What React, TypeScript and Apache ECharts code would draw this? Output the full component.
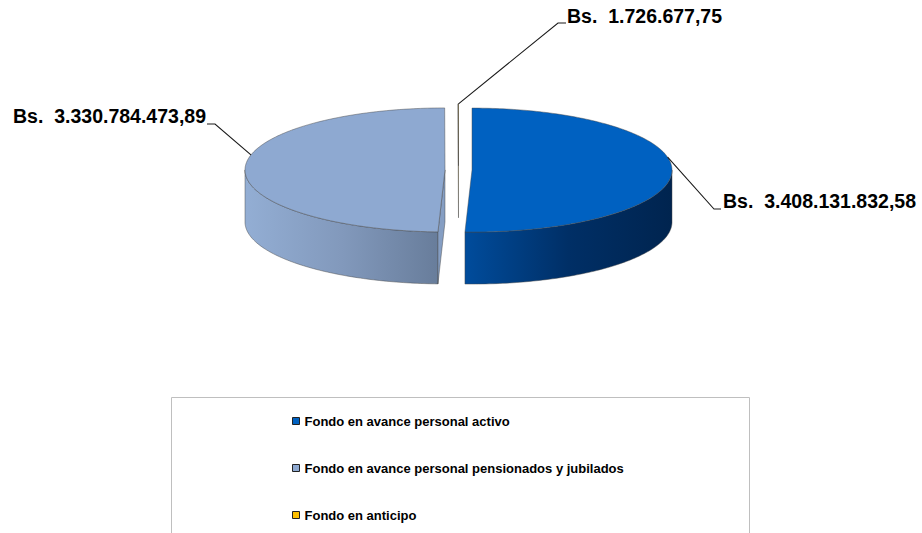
import React, { useEffect, useRef } from 'react';
import * as echarts from 'echarts';

// ---------- data ----------
const categories = [
  'Fondo en avance personal activo',
  'Fondo en avance personal pensionados y jubilados',
  'Fondo en anticipo',
];
const values = [3408131832.58, 3330784473.89, 1726677.75];
const currencyPrefix = 'Bs.';
const topColors = ['#0061C1', '#8EA9D1', '#FFC000'];
const wallColors = [
  ['#004C9C', '#002F66', '#00244F'],
  ['#93AED4', '#8299BC', '#687D9B'],
  ['#C89600', '#A07800', '#7A5C00'],
];
const faceColors = ['#004C9E', '#859EC3', '#D9A400'];

// ---------- layout ----------
const CX = 458.5;
const CY = 170;
const RX = 200;
const RY = 62;
const DEPTH = 52;
const EXPLODE = 13.5;
const FONT = '"Liberation Sans", Arial, Helvetica, sans-serif';
const labelLayout = [
  { anchor: 78, elbow: [714, 209], end: [721, 209], x: 723, y: 201 },
  { anchor: 284, elbow: [215, 124], end: [207, 124], x: 13, y: 116 },
  { anchor: 360, elbow: [558, 23], end: [566, 23], x: 567, y: 16 },
];

function fmt(v: number): string {
  const [i, d] = v.toFixed(2).split('.');
  return i.replace(/\B(?=(\d{3})+(?!\d))/g, '.') + ',' + d;
}

const total = values.reduce((a, b) => a + b, 0);
const spans = values.map((v) => (v / total) * 360);
const starts: number[] = [];
spans.reduce((acc, s, i) => {
  starts[i] = acc;
  return acc + s;
}, 0);

const rad = (d: number) => (d * Math.PI) / 180;
function pt(cx: number, cy: number, th: number, dz: number): number[] {
  return [cx + RX * Math.sin(rad(th)), cy - RY * Math.cos(rad(th)) + dz];
}
function arcPts(cx: number, cy: number, a: number, b: number, dz: number): number[][] {
  const n = Math.max(2, Math.ceil(Math.abs(b - a)) + 1);
  const out: number[][] = [];
  for (let k = 0; k < n; k++) {
    out.push(pt(cx, cy, a + ((b - a) * k) / (n - 1), dz));
  }
  return out;
}
function toPath(points: number[][]): string {
  return (
    points.map((p, k) => (k === 0 ? 'M' : 'L') + p[0].toFixed(2) + ' ' + p[1].toFixed(2)).join(' ') + ' Z'
  );
}

const STROKE = 'rgba(70,70,70,0.65)';

function renderSlice(params: any) {
  const i = params.seriesIndex;
  const a0 = starts[i];
  const a1 = starts[i] + spans[i];
  const mid = (a0 + a1) / 2;
  const cx = CX + EXPLODE * Math.sin(rad(mid));
  const cy = CY - EXPLODE * (RY / RX) * Math.cos(rad(mid));
  const children: any[] = [];

  // outer wall (front half only)
  const ws = Math.max(a0, 90);
  const we = Math.min(a1, 270);
  if (we > ws) {
    const top = arcPts(cx, cy, ws, we, 0);
    const bottom = arcPts(cx, cy, we, ws, DEPTH);
    const stops = wallColors[i];
    children.push({
      type: 'path',
      shape: { pathData: toPath(top.concat(bottom)) },
      style: {
        fill: new echarts.graphic.LinearGradient(0, 0, 1, 0, [
          { offset: 0, color: stops[0] },
          { offset: 0.5, color: stops[1] },
          { offset: 1, color: stops[2] },
        ]),
        stroke: STROKE,
        lineWidth: 0.7,
      },
    });
  }

  // cut faces
  const face = (th: number) => {
    const p = pt(cx, cy, th, 0);
    const q = pt(cx, cy, th, DEPTH);
    return toPath([[cx, cy], p, q, [cx, cy + DEPTH]]);
  };
  if (Math.sin(rad(a0)) < -1e-6) {
    children.push({
      type: 'path',
      shape: { pathData: face(a0) },
      style: { fill: faceColors[i], stroke: STROKE, lineWidth: 0.7 },
    });
  }
  if (Math.sin(rad(a1)) > 1e-6) {
    children.push({
      type: 'path',
      shape: { pathData: face(a1) },
      style: { fill: faceColors[i], stroke: STROKE, lineWidth: 0.7 },
    });
  }

  // top face
  const topPts = [[cx, cy]].concat(arcPts(cx, cy, a0, a1, 0));
  children.push({
    type: 'path',
    shape: { pathData: toPath(topPts) },
    style: { fill: topColors[i], stroke: STROKE, lineWidth: 0.7 },
  });

  // leader + label
  const L = labelLayout[i];
  const anc = pt(cx, cy, L.anchor, 0);
  children.push({
    type: 'polyline',
    shape: { points: [anc, L.elbow, L.end] },
    style: { stroke: '#1a1a1a', lineWidth: 1.1, fill: null },
  });
  children.push({
    type: 'text',
    x: L.x,
    y: L.y,
    style: {
      text: currencyPrefix + '\u00a0 ' + fmt(values[i]),
      fill: '#000',
      fontSize: 19.5,
      fontWeight: 'bold',
      fontFamily: FONT,
      align: 'left',
      verticalAlign: 'middle',
    },
  });

  return { type: 'group', children };
}

export default function App() {
  const ref = useRef<HTMLDivElement>(null);
  useEffect(() => {
    if (!ref.current) return;
    const chart = echarts.init(ref.current, undefined, { renderer: 'svg' });
    chart.setOption({
      animation: false,
      backgroundColor: '#ffffff',
      legend: {
        data: categories,
        orient: 'vertical',
        left: 292,
        top: 414,
        padding: 0,
        icon: 'rect',
        itemWidth: 7,
        itemHeight: 7,
        itemGap: 33,
        selectedMode: false,
        itemStyle: { borderColor: '#222', borderWidth: 1 },
        textStyle: { fontSize: 13, fontWeight: 'bold', color: '#000', fontFamily: FONT, lineHeight: 14 },
      },
      graphic: [
        {
          type: 'rect',
          shape: { x: 171.5, y: 397.5, width: 578, height: 200 },
          style: { fill: 'none', stroke: '#BFBFBF', lineWidth: 1 },
          z: -1,
        },
      ],
      series: categories.map((name, i) => ({
        type: 'custom',
        name,
        coordinateSystem: 'none',
        silent: true,
        itemStyle: { color: topColors[i] },
        data: [[values[i]]],
        renderItem: renderSlice,
      })),
    });
    return () => chart.dispose();
  }, []);
  return (
    <div
      ref={ref}
      style={{ position: 'fixed', left: 0, top: 0, width: 922, height: 533, background: '#fff' }}
    />
  );
}
